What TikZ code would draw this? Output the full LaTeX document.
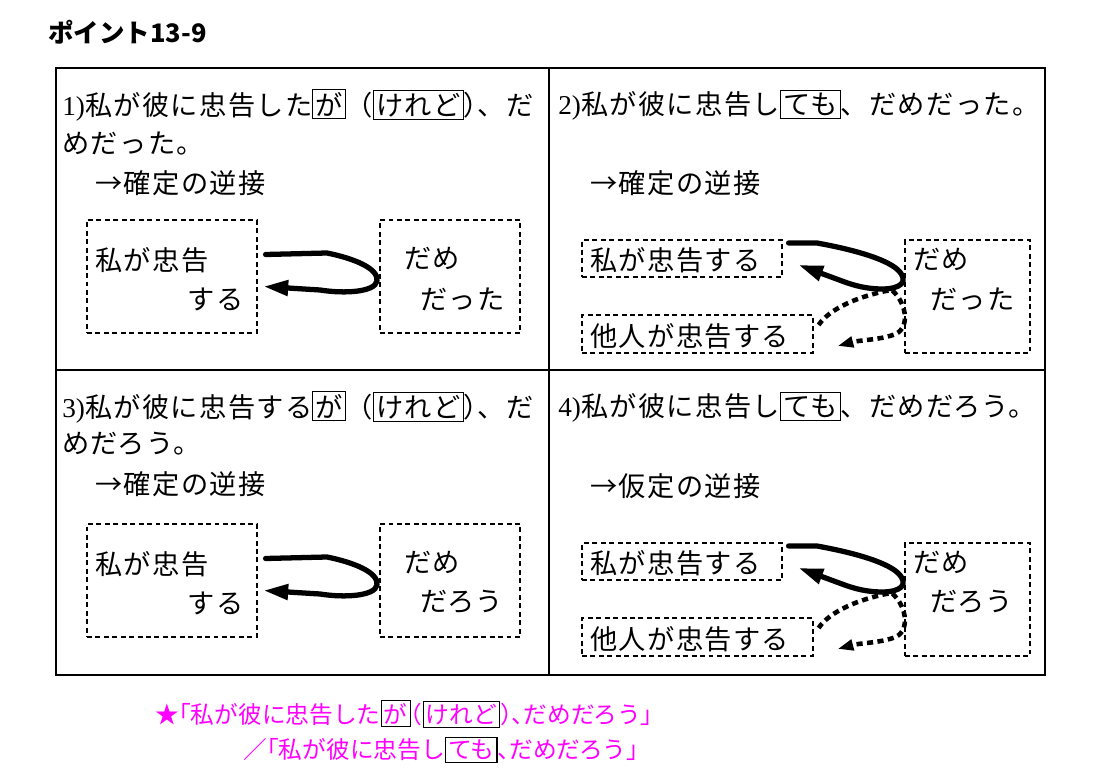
\documentclass[tikz,border=0pt]{standalone}
\usepackage{fontspec}
\setmainfont{Liberation Serif}
\newfontfamily\jp{Noto Sans CJK JP}[LetterSpace=5]
\newfontfamily\jpt{Noto Sans CJK JP}[RawFeature=+halt]
\newfontfamily\jpb{Noto Sans CJK JP}
\usepackage{tikz}
\usetikzlibrary{arrows.meta,positioning}
\definecolor{mag}{RGB}{255,0,255}
\newcommand{\wk}[1]{{\setlength{\fboxsep}{1.2pt}\setlength{\fboxrule}{0.6pt}\fcolorbox{black}{white}{#1}}}
\newcommand{\hw}[1]{{\addfontfeatures{RawFeature=+halt}#1}}

\begin{document}
\begin{tikzpicture}[x=0.02cm, y=-0.02cm,
  tline/.style={line width=0.9pt},
  dbox/.style={draw, dash pattern=on 2.8pt off 2pt, line width=0.7pt, inner sep=0pt},
  lbl/.style={anchor=west, inner sep=0pt, font=\jp\fontsize{15.5}{18}\selectfont},
  hand/.style={line width=3pt, line join=round, line cap=round},
  dots/.style={line width=2.6pt, dash pattern=on 3.5pt off 2.5pt},
  arr/.style={-{Triangle[length=14pt,width=8.5pt]}},
  arrs/.style={-{Triangle[length=9pt,width=6pt]}}]
  \useasboundingbox (0,0) rectangle (1100,780);
  % title
  \node[anchor=west, inner sep=0pt, font=\jpb\bfseries\fontsize{14.5}{17}\selectfont] (ttl) at (48,32) {ポイント13-9};
  % table
  \draw[tline] (56,68) rectangle (1045,675);
  \draw[tline] (549,68) -- (549,675);
  \draw[tline] (56,370) -- (1045,370);

  % panel 1
  \node[lbl] (h1) at (62,105) {{\rmfamily 1)}私が彼に忠告した\wk{が}（\wk{けれど}\hw{）}、だ};
  \node[lbl] (h1b) at (62,144) {めだった。};
  \node[lbl] (r1) at (95,183) {→確定の逆接};
  \node[dbox, minimum width=3.4cm, minimum height=2.26cm] (pa1) at (172,276.5) {};
  \node[dbox, minimum width=2.8cm, minimum height=2.26cm] (pb1) at (450,276.5) {};
  \node[lbl] (s1) at (95,260) {私が忠告};
  \node[lbl, anchor=east] (s1b) at (244,299) {する};
  \node[lbl] (d1) at (404,259) {だめ};
  \node[lbl] (d1b) at (420,299) {だった};
  \draw[hand,arr] ([shift={(8,-22)}]pa1.east) -- (327,253)
    .. controls (352,258) and (379,268) .. (377,281)
    .. controls (375,292) and (345,294) .. (320,290) -- ([shift={(6,10)}]pa1.east);

  % panel 2
  \node[lbl] (h2) at (558,105) {{\rmfamily 2)}私が彼に忠告し\wk{ても}、だめだった。};
  \node[lbl] (r2) at (590,183) {→確定の逆接};
  \node[dbox, minimum width=4cm, minimum height=0.74cm] (pa2) at (682,258.5) {};
  \node[dbox, minimum width=4.62cm, minimum height=0.76cm] (pc2) at (697.5,334) {};
  \node[dbox, minimum width=2.5cm, minimum height=2.26cm] (pb2) at (967.5,296.5) {};
  \node[lbl] (s2) at (590,260) {私が忠告する};
  \node[lbl] (o2) at (590,336) {他人が忠告する};
  \node[lbl] (d2) at (913,260) {だめ};
  \node[lbl] (d2b) at (930,299) {だった};
  \draw[hand,arr] ([shift={(6,-15.5)}]pa2.east) -- (817,243)
    .. controls (850,249) and (885,258) .. (898,270)
    .. controls (910,282) and (900,289) .. (882,289)
    .. controls (868,289) and (855,286) .. (842,281) -- ([shift={(16,6.5)}]pa2.east);
  \draw[dots] ([shift={(-16,-6)}]pb2.west) .. controls (860,296) and (830,308) .. ([shift={(5,-9)}]pc2.east);
  \draw[dots,arrs] ([shift={(-12,-6)}]pb2.west) .. controls (908,305) and (910,330) .. (893,335)
    .. controls (878,340) and (860,340) .. ([shift={(24,12)}]pc2.east);

  % panel 3
  \node[lbl] (h3) at (62,407) {{\rmfamily 3)}私が彼に忠告する\wk{が}（\wk{けれど}\hw{）}、だ};
  \node[lbl] (h3b) at (62,444) {めだろう。};
  \node[lbl] (r3) at (95,484) {→確定の逆接};
  \node[dbox, minimum width=3.4cm, minimum height=2.26cm] (pa3) at (172,580.5) {};
  \node[dbox, minimum width=2.8cm, minimum height=2.26cm] (pb3) at (450,580.5) {};
  \node[lbl] (s3) at (95,564) {私が忠告};
  \node[lbl, anchor=east] (s3b) at (244,603) {する};
  \node[lbl] (d3) at (404,563) {だめ};
  \node[lbl] (d3b) at (420,602) {だろう};
  \draw[hand,arr] ([shift={(8,-22)}]pa3.east) -- (327,557)
    .. controls (352,562) and (379,572) .. (377,585)
    .. controls (375,596) and (345,598) .. (320,594) -- ([shift={(6,10)}]pa3.east);

  % panel 4
  \node[lbl] (h4) at (558,407) {{\rmfamily 4)}私が彼に忠告し\wk{ても}、だめだろう。};
  \node[lbl] (r4) at (590,486) {→仮定の逆接};
  \node[dbox, minimum width=4cm, minimum height=0.74cm] (pa4) at (682,561.5) {};
  \node[dbox, minimum width=4.62cm, minimum height=0.76cm] (pc4) at (697.5,637) {};
  \node[dbox, minimum width=2.5cm, minimum height=2.26cm] (pb4) at (967.5,599.5) {};
  \node[lbl] (s4) at (590,563) {私が忠告する};
  \node[lbl] (o4) at (590,639) {他人が忠告する};
  \node[lbl] (d4) at (913,563) {だめ};
  \node[lbl] (d4b) at (930,602) {だろう};
  \draw[hand,arr] ([shift={(6,-15.5)}]pa4.east) -- (817,546)
    .. controls (850,552) and (885,561) .. (898,573)
    .. controls (910,585) and (900,592) .. (882,592)
    .. controls (868,592) and (855,589) .. (842,584) -- ([shift={(16,6.5)}]pa4.east);
  \draw[dots] ([shift={(-16,-6)}]pb4.west) .. controls (860,599) and (830,611) .. ([shift={(5,-9)}]pc4.east);
  \draw[dots,arrs] ([shift={(-12,-6)}]pb4.west) .. controls (908,608) and (910,633) .. (893,638)
    .. controls (878,643) and (860,643) .. ([shift={(24,12)}]pc4.east);

  % note
  \node[anchor=west, inner sep=0pt, text=mag, font=\jpt\fontsize{13.5}{16}\selectfont] (n1) at (155,714)
    {★「私が彼に忠告した\wk{が}（\wk{けれど}）、だめだろう」};
  \node[anchor=west, inner sep=0pt, text=mag, font=\jpt\fontsize{13.5}{16}\selectfont] (n2) at (243,750)
    {／「私が彼に忠告し\wk{ても}、だめだろう」};
\end{tikzpicture}
\end{document}
